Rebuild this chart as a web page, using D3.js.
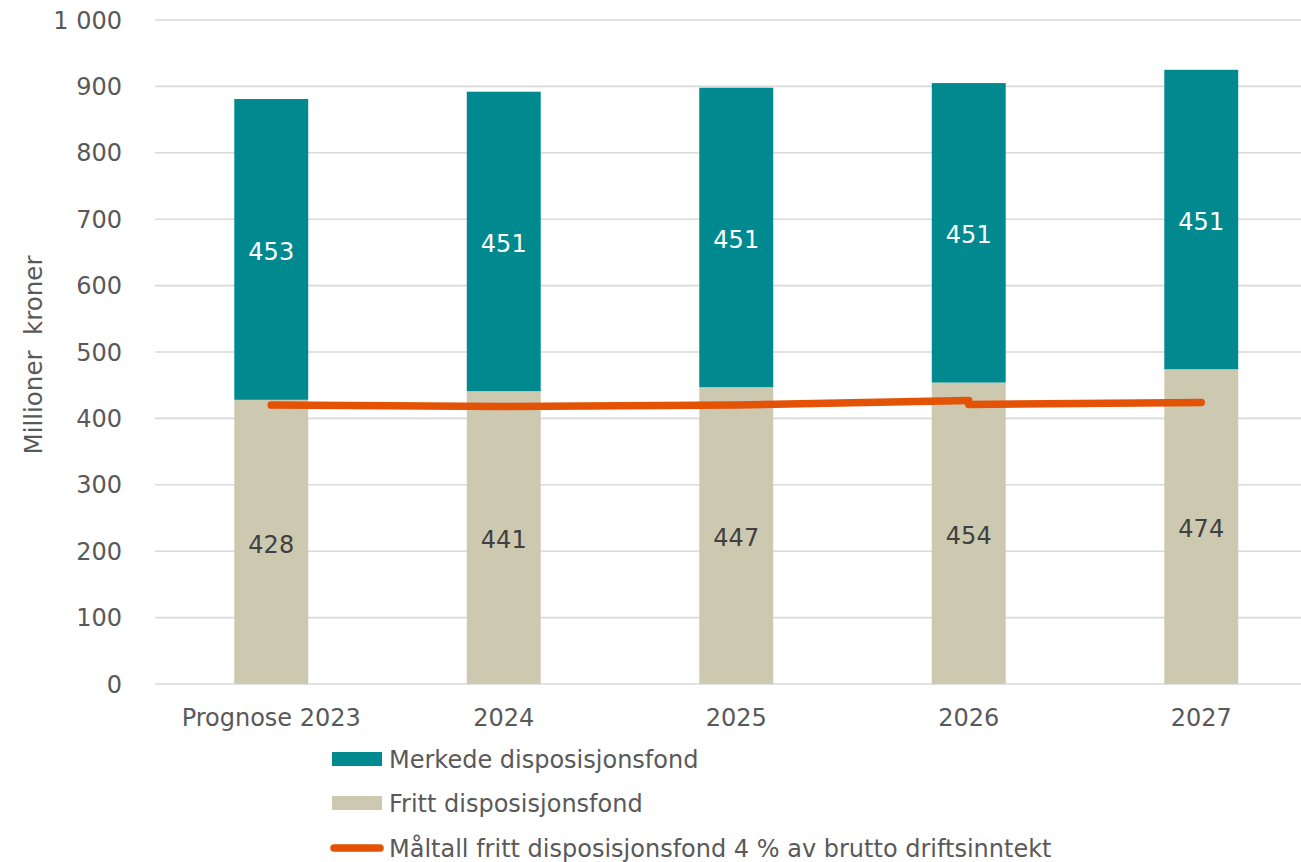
<!DOCTYPE html>
<html>
<head>
<meta charset="utf-8">
<script src="https://cdn.jsdelivr.net/npm/d3@7"></script>
<style>
  html, body { margin: 0; padding: 0; background: #fff; }
  svg { display: block; font-family: "DejaVu Sans", Verdana, sans-serif; }
</style>
</head>
<body>
<svg id="chart" width="1301" height="862"></svg>
<script>
// ---- data ----
const categories = ["Prognose 2023", "2024", "2025", "2026", "2027"];
const fritt = [428, 441, 447, 454, 474];
const merkede = [453, 451, 451, 451, 451];
// target line (drawn in two pieces, as in the original, with a small break at 2026)
const maltallCatsA = ["Prognose 2023", "2024", "2025", "2026"];
const maltallA = [420, 418, 420, 427];
const maltallCatsB = ["2026", "2027"];
const maltallB = [421, 424];
const yTicks = [0, 100, 200, 300, 400, 500, 600, 700, 800, 900, 1000];
const yTitle = "Millioner  kroner";
const legendLabels = ["Merkede disposisjonsfond", "Fritt disposisjonsfond", "Måltall fritt disposisjonsfond 4 % av brutto driftsinntekt"];

// ---- styles ----
const colTeal = "#008A90";
const colBeige = "#CDC9B0";
const colLine = "#E35205";
const colText = "#595959";
const colGrid = "#D9D9D9";
const fontSize = 24;

const svg = d3.select("#chart");
const W = 1301;
const plotLeft = 155, plotRight = 1317.5;

const x = d3.scalePoint().domain(categories).range([plotLeft, plotRight]).padding(0.5);
const step = x.step();
const barW = step * 0.318;
const y = d3.scaleLinear().domain([0, 1000]).range([684, 20]);

const locale = d3.formatLocale({ decimal: ",", thousands: "\u00a0", grouping: [3], currency: ["", " kr"] });
const fmt = locale.format(",d");

// gridlines
svg.append("g").selectAll("line").data(yTicks).join("line")
  .attr("x1", plotLeft).attr("x2", W)
  .attr("y1", d => y(d)).attr("y2", d => y(d))
  .attr("stroke", colGrid).attr("stroke-width", 1.6);

// y tick labels
svg.append("g").selectAll("text").data(yTicks).join("text")
  .attr("x", 122).attr("y", d => y(d))
  .attr("dy", "0.36em")
  .attr("text-anchor", "end")
  .attr("fill", colText)
  .attr("font-size", fontSize)
  .text(d => fmt(d));

// y title
svg.append("text")
  .attr("transform", `translate(42, 355) rotate(-90)`)
  .attr("text-anchor", "middle")
  .attr("fill", colText)
  .attr("font-size", 24.5)
  .style("white-space", "pre")
  .attr("xml:space", "preserve")
  .text(yTitle);

// bars
const rows = categories.map((c, i) => ({ c, f: fritt[i], m: merkede[i] }));
const gBars = svg.append("g");
gBars.selectAll("rect.f").data(rows).join("rect").attr("class", "f")
  .attr("x", d => x(d.c) - barW / 2).attr("width", barW)
  .attr("y", d => y(d.f)).attr("height", d => y(0) - y(d.f))
  .attr("fill", colBeige);
gBars.selectAll("rect.m").data(rows).join("rect").attr("class", "m")
  .attr("x", d => x(d.c) - barW / 2).attr("width", barW)
  .attr("y", d => y(d.f + d.m)).attr("height", d => y(d.f) - y(d.f + d.m))
  .attr("fill", colTeal);

// line
const line = d3.line().x(d => x(d[0])).y(d => y(d[1]));
const pieceA = maltallCatsA.map((c, i) => [c, maltallA[i]]);
const pieceB = maltallCatsB.map((c, i) => [c, maltallB[i]]);
svg.append("g").selectAll("path").data([pieceA, pieceB]).join("path")
  .attr("d", line)
  .attr("fill", "none")
  .attr("stroke", colLine)
  .attr("stroke-width", 7.5)
  .attr("stroke-linecap", "round")
  .attr("stroke-linejoin", "round");

// data labels
svg.append("g").selectAll("text.lf").data(rows).join("text").attr("class", "lf")
  .attr("x", d => x(d.c)).attr("y", d => (y(0) + y(d.f)) / 2 + 2)
  .attr("dy", "0.36em").attr("text-anchor", "middle")
  .attr("fill", "#404040").attr("font-size", fontSize)
  .text(d => d.f);
svg.append("g").selectAll("text.lm").data(rows).join("text").attr("class", "lm")
  .attr("x", d => x(d.c)).attr("y", d => (y(d.f) + y(d.f + d.m)) / 2 + 2)
  .attr("dy", "0.36em").attr("text-anchor", "middle")
  .attr("fill", "#FFFFFF").attr("font-size", fontSize)
  .text(d => d.m);

// category labels
svg.append("g").selectAll("text").data(categories).join("text")
  .attr("x", d => x(d)).attr("y", 717)
  .attr("dy", "0.36em").attr("text-anchor", "middle")
  .attr("fill", colText).attr("font-size", fontSize)
  .text(d => d);

// legend
const lg = svg.append("g");
const legY = [759, 803, 848];
lg.append("rect").attr("x", 332).attr("y", legY[0] - 7).attr("width", 50).attr("height", 14).attr("fill", colTeal);
lg.append("rect").attr("x", 332).attr("y", legY[1] - 7).attr("width", 50).attr("height", 14).attr("fill", colBeige);
lg.append("line").attr("x1", 334).attr("x2", 380).attr("y1", legY[2]).attr("y2", legY[2])
  .attr("stroke", colLine).attr("stroke-width", 7.5).attr("stroke-linecap", "round");
lg.selectAll("text").data(legendLabels).join("text")
  .attr("x", 389).attr("y", (d, i) => legY[i])
  .attr("dy", "0.36em")
  .attr("fill", colText).attr("font-size", fontSize)
  .text(d => d);
</script>
</body>
</html>
